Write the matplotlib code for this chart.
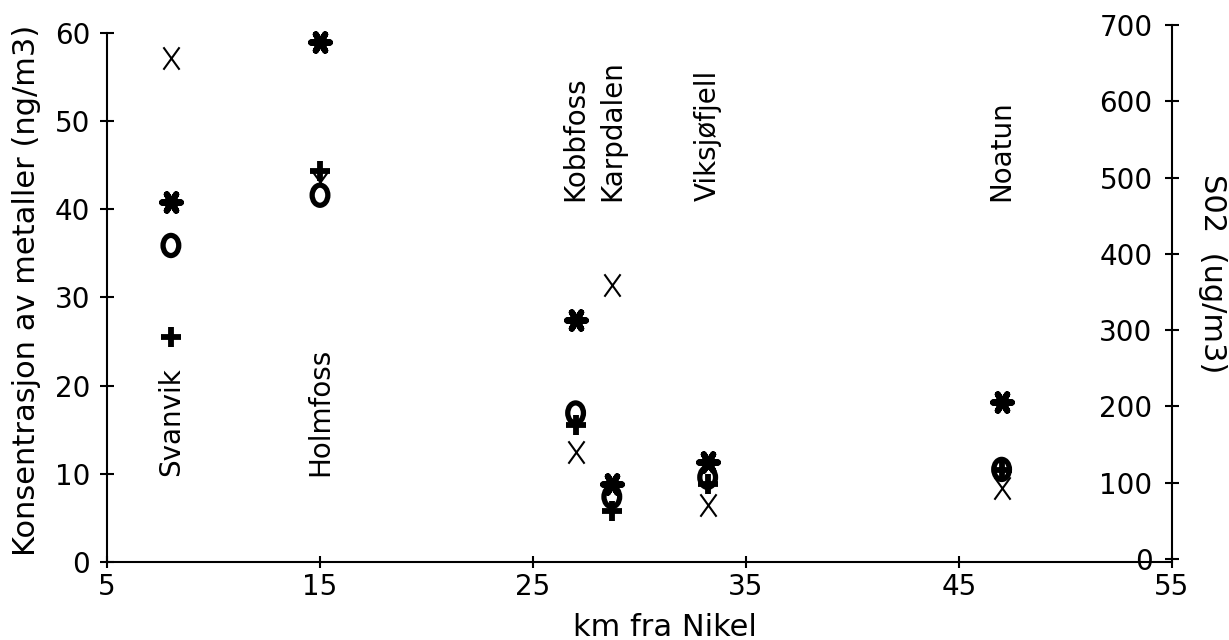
import matplotlib
matplotlib.use("Agg")
import matplotlib.pyplot as plt
from matplotlib.path import Path
from matplotlib.transforms import Affine2D

plt.rcParams['font.family'] = ['DejaVu Sans']

# målestasjoner, avstand fra Nikel (km)
sites = ['Svanvik', 'Holmfoss', 'Kobbfoss', 'Karpdalen', 'Viksjøfjell', 'Noatun']
km = [8.0, 15.0, 27.0, 28.7, 33.2, 47.0]

# metaller (ng/m3)
metal_star = [40.8, 59.0, 27.4, 8.8, 11.3, 18.1]
metal_oval = [35.9, 41.6, 16.9, 7.4, 9.6, 10.5]
metal_plus = [25.5, 44.3, 15.5, 5.8, 8.8, 10.4]

# SO2 (ug/m3)
so2 = [657, 494, 140, 359, 71, 93]

# navn nederst (Svanvik, Holmfoss) eller øverst
label_low = [True, True, False, False, False, False]

fig = plt.figure(figsize=(12.29, 6.4), dpi=100)
ax = fig.add_axes([107 / 1229, 78 / 640, 1065 / 1229, 538 / 640])
ax2 = ax.twinx()

ax.set_xlim(5, 55)
ax.set_ylim(0, 61.02)
ax2.set_ylim(-3.9, 701.3)

# smal oval "0" og høy "X"
oval = Path.unit_circle().transformed(Affine2D().scale(0.78, 1.0))
cross = Path([(-0.5, -0.5), (0.5, 0.5), (-0.5, 0.5), (0.5, -0.5)],
             [Path.MOVETO, Path.LINETO, Path.MOVETO, Path.LINETO])
cross = cross.transformed(Affine2D().scale(0.72, 1.0))

ax.scatter(km, metal_oval, marker=oval, s=210, facecolors='none',
           edgecolors='black', linewidths=3.8, zorder=3)
ax.scatter(km, metal_plus, marker='+', s=220, c='black', linewidths=4.2, zorder=3)
ax.scatter(km, metal_star, marker=(6, 2, 30), s=180, c='black', linewidths=4.5, zorder=3)
ax2.scatter(km, so2, marker=cross, s=260, c='black', linewidths=1.5, zorder=3)

for name, x, low in zip(sites, km, label_low):
    y = 9.75 if low else 41.0
    ax.text(x, y, name, rotation=90, ha='center', va='bottom', fontsize=20)

for a in (ax, ax2):
    a.spines['top'].set_visible(False)
ax.spines['right'].set_visible(False)
ax2.spines['left'].set_visible(False)
ax2.spines['bottom'].set_visible(False)
for sp in ('left', 'bottom'):
    ax.spines[sp].set_linewidth(1.5)
ax2.spines['right'].set_linewidth(1.5)
ax.spines['left'].set_bounds(0, 60)
ax2.spines['right'].set_bounds(0, 700)

ax.set_xticks([5, 15, 25, 35, 45, 55])
ax.set_yticks(range(0, 61, 10))
ax2.set_yticks(range(0, 701, 100))

ax.tick_params(axis='both', direction='inout', length=10, width=1.5,
               labelsize=20)
ax.tick_params(axis='y', pad=7)
ax.tick_params(axis='x', length=8, pad=4)
ax2.tick_params(axis='y', direction='inout', length=10, width=1.5,
                labelsize=20, pad=-19)
for t in ax2.yaxis.get_major_ticks():
    t.label2.set_horizontalalignment('right')

ax.set_xlabel('km fra Nikel', fontsize=22)
ax.xaxis.set_label_coords((665 - 107) / 1065, -0.095)
ax.set_ylabel('Konsentrasjon av metaller (ng/m3)', fontsize=22)
ax.yaxis.set_label_coords(-0.062, 0.505)
ax2.set_ylabel('S02  (ug/m3)', fontsize=22, rotation=270, va='center')
ax2.yaxis.set_label_coords(1.038, 0.535)

fig.savefig('out.png', dpi=100)
